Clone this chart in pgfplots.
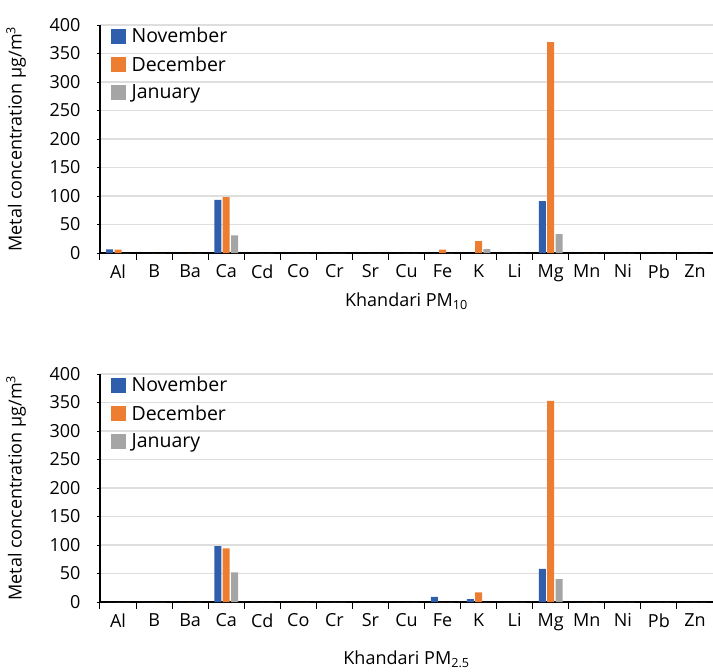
\documentclass[border=0pt]{standalone}
\usepackage{pgfplots}
\usepackage{pgfplotstable}
\pgfplotsset{compat=1.18}
\usepackage{fontspec}
\setmainfont{Open Sans}

\definecolor{cnov}{RGB}{47,94,172}
\definecolor{cdec}{RGB}{237,125,49}
\definecolor{cjan}{RGB}{165,165,165}
\definecolor{gridc}{RGB}{222,222,222}

% x = element index (Al=0 ... Zn=16)
\pgfplotstableread{
x nov dec jan
0 6.5 6 0
1 0 0 0
2 0 0 0
3 93 98 31
4 0 0 0
5 0 0 0
6 0 0 0
7 0 0 0
8 0 0 0
9 0 6 0
10 0 21 7
11 0 0 0
12 91 370 33
13 0 0 0
14 0 0 0
15 0 0 0
16 0 0 0
}\pmten

\pgfplotstableread{
x nov dec jan
0 0 0 0
1 0 0 0
2 0 0 0
3 98 94 52
4 0 0 0
5 0 0 0
6 0 0 0
7 0 0 0
8 0 0 0
9 9 0 0
10 5 17 0
11 0 0 0
12 58 353 40
13 0 0 0
14 0 0 0
15 0 0 0
16 0 0 0
}\pmtwofive

\pgfplotsset{
  metal/.style={
    width=613pt, height=228pt, scale only axis,
    font=\fontsize{18}{21}\selectfont,
    ybar=1.3pt, bar width=7pt,
    xmin=-0.5, xmax=16.5,
    ymin=0, ymax=400,
    ytick={0,50,...,400},
    xtick={0,...,16},
    xticklabels={Al,B,Ba,Ca,Cd,Co,Cr,Sr,Cu,Fe,K,Li,Mg,Mn,Ni,Pb,Zn},
    minor xtick={-0.5,0.5,...,16.5},
    major x tick style={draw=none},
    minor tick length=7pt,
    major tick length=3pt,
    tick align=outside,
    tick style={black, line width=1pt},
    yticklabel style={xshift=-13pt},
    xticklabel style={yshift=-5pt},
    axis lines*=left,
    axis line style={black, line width=1.2pt},
    ymajorgrids, grid style={gridc, line width=1.3pt},
    /pgf/number format/assume math mode=true,
    ylabel={Metal concentration µg/m\textsuperscript{3}},
    ylabel style={at={(axis description cs:-0.137,0.5)}, anchor=center},
    legend style={draw=none, fill=none, at={(rel axis cs:0.012,1.005)}, anchor=north west,
      row sep=8pt, font=\fontsize{19.5}{22}\selectfont,
      /tikz/every odd column/.append style={column sep=4pt}},
    legend cell align=left,
    legend image code/.code={\fill[##1] (0pt,-7.5pt) rectangle (15pt,7.5pt);},
  }
}

\begin{document}
\begin{tikzpicture}
\path[use as bounding box] (0,0) rectangle (713pt,-672pt);

\begin{axis}[metal, at={(100pt,-253pt)}, anchor=south west,
  xlabel={Khandari PM\textsubscript{10}},
  xlabel style={at={(axis description cs:0.5,-0.21)}, anchor=center}]
\addplot[fill=cnov, draw=none] table[x=x, y=nov] {\pmten};
\addplot[fill=cdec, draw=none] table[x=x, y=dec] {\pmten};
\addplot[fill=cjan, draw=none] table[x=x, y=jan] {\pmten};
\legend{November, December, January}
\end{axis}

\begin{axis}[metal, at={(100pt,-602pt)}, anchor=south west,
  xlabel={Khandari PM\textsubscript{2.5}},
  xlabel style={at={(axis description cs:0.5,-0.25)}, anchor=center}]
\addplot[fill=cnov, draw=none] table[x=x, y=nov] {\pmtwofive};
\addplot[fill=cdec, draw=none] table[x=x, y=dec] {\pmtwofive};
\addplot[fill=cjan, draw=none] table[x=x, y=jan] {\pmtwofive};
\legend{November, December, January}
\end{axis}
\end{tikzpicture}
\end{document}
